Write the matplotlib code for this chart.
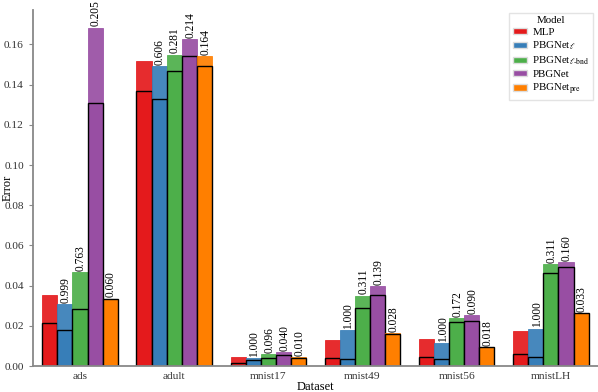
import numpy as np
import matplotlib
matplotlib.use('Agg')
import matplotlib.pyplot as plt
from matplotlib.patches import Patch

plt.rcParams['font.family'] = 'serif'
plt.rcParams['font.serif'] = ['Liberation Serif', 'DejaVu Serif']
plt.rcParams['mathtext.fontset'] = 'stix'

datasets = ['ads', 'adult', 'mnist17', 'mnist49', 'mnist56', 'mnistLH']
models = ['MLP', r'PBGNet$_\ell$', r'PBGNet$_{\ell\text{-bnd}}$', 'PBGNet', r'PBGNet$_{\rm pre}$']
colors = ['#e41a1c', '#377eb8', '#4daf4a', '#984ea3', '#ff7f00']

# outer bar (full height) per model, per dataset
outer = [
    [0.0353, 0.1517, 0.0046, 0.0129, 0.0136, 0.0176],  # MLP
    [0.0307, 0.1491, 0.0041, 0.0179, 0.0113, 0.0187],  # PBGNet_l
    [0.0469, 0.1549, 0.0061, 0.0351, 0.0240, 0.0507],  # PBGNet_l-bnd
    [0.1683, 0.1627, 0.0070, 0.0398, 0.0253, 0.0518],  # PBGNet
    [0.0336, 0.1542, 0.0043, 0.0166, 0.0094, 0.0265],  # PBGNet_pre
]
# inner bar (black outline)
inner = [
    [0.0214, 0.1370, 0.0018, 0.0038, 0.0043, 0.0058],
    [0.0179, 0.1329, 0.0028, 0.0035, 0.0033, 0.0043],
    [0.0282, 0.1470, 0.0041, 0.0288, 0.0220, 0.0461],
    [0.1306, 0.1544, 0.0053, 0.0353, 0.0222, 0.0495],
    [0.0334, 0.1494, 0.0041, 0.0159, 0.0094, 0.0263],
]
# bound labels (None = no label)
bounds = [
    [None, None, None, None, None, None],
    ['0.999', '0.606', '1.000', '1.000', '1.000', '1.000'],
    ['0.763', '0.281', '0.096', '0.311', '0.172', '0.311'],
    ['0.205', '0.214', '0.040', '0.139', '0.090', '0.160'],
    ['0.060', '0.164', '0.010', '0.028', '0.018', '0.033'],
]

fig = plt.figure(figsize=(5.98, 3.92), dpi=100)
ax = fig.add_axes([0.055, 0.066, 0.945, 0.908])

x = np.arange(len(datasets))
w = 0.16
for i in range(len(models)):
    pos = x + (i - 2) * w
    ax.bar(pos, outer[i], w, color=colors[i], edgecolor=colors[i], linewidth=0.6, alpha=0.92)
    ax.bar(pos, inner[i], w, color=colors[i], edgecolor='black', linewidth=1.0)
    for j, lab in enumerate(bounds[i]):
        if lab is not None:
            ax.text(pos[j] + 0.01, outer[i][j] + 0.0006, lab, rotation=90, ha='center', va='bottom',
                    fontsize=8.3, clip_on=False)

ax.set_xlim(-0.5, 5.5)
ax.set_ylim(0, 0.177)
ax.set_xticks(x)
ax.set_xticklabels(datasets)
ax.set_yticks(np.arange(0, 0.17, 0.02))
ax.yaxis.set_major_formatter(matplotlib.ticker.FormatStrFormatter('%.2f'))
ax.tick_params(axis='both', labelsize=8.2, colors='#333333', length=3, color='#888888')
ax.tick_params(axis='x', length=0, pad=4)
for s in ['top', 'right']:
    ax.spines[s].set_visible(False)
for s in ['left', 'bottom']:
    ax.spines[s].set_color('#888888')
    ax.spines[s].set_linewidth(1.3)
ax.set_xlabel('Dataset', fontsize=9, labelpad=0)
ax.set_ylabel('Error', fontsize=9)
ax.yaxis.set_label_coords(-0.034, 0.5)

handles = [Patch(facecolor=c, edgecolor='#dddddd', label=m) for c, m in zip(colors, models)]
leg = ax.legend(handles=handles, title='Model', loc='upper right', fontsize=7.8, title_fontsize=7.8,
                frameon=True, fancybox=False, edgecolor='#dddddd', handlelength=1.3,
                handleheight=0.5, handletextpad=0.5, labelspacing=0.25, borderpad=0.3,
                borderaxespad=0.0, bbox_to_anchor=(0.991, 0.992))

fig.savefig('out.png', dpi=100)
